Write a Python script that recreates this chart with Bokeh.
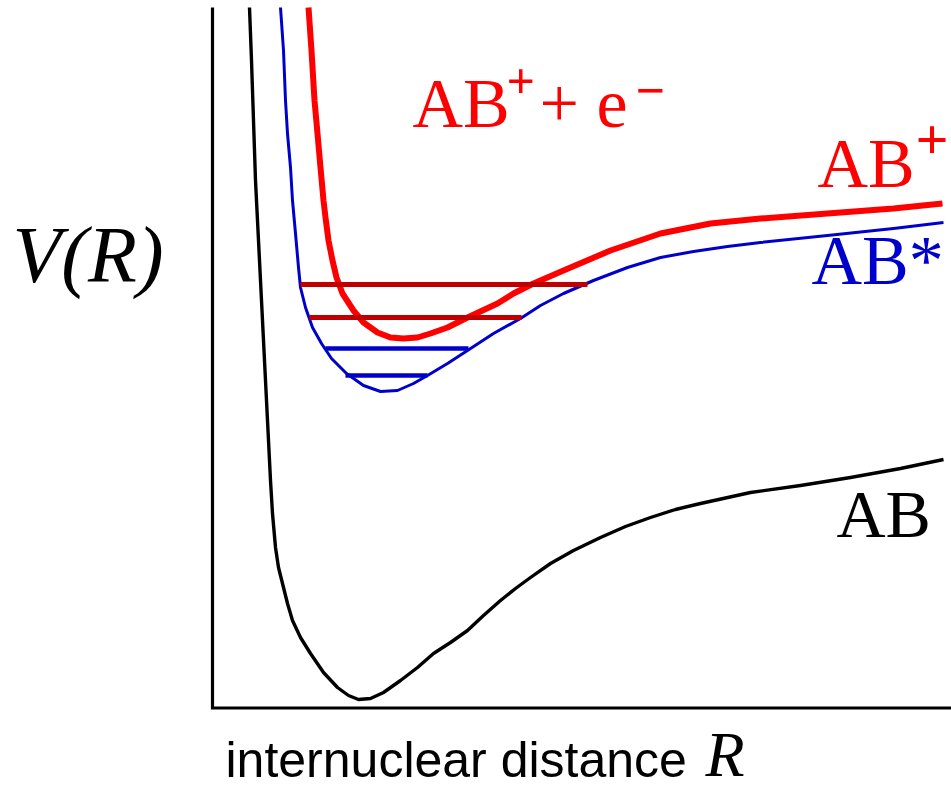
from bokeh.plotting import figure
from bokeh.models import Range1d, Label
from bokeh.embed import file_html
from bokeh.resources import INLINE

# Potential energy curves V(R), internuclear distance R (arbitrary units)
ab_R = [0.37, 0.39, 0.41, 0.43, 0.46, 0.48, 0.51, 0.53, 0.56, 0.58, 0.60, 0.63,
        0.66, 0.71, 0.75, 0.80, 0.88, 0.98, 1.11, 1.25, 1.36, 1.46, 1.58, 1.71,
        1.88, 2.05, 2.21, 2.38, 2.55, 2.71, 2.88, 3.03, 3.18, 3.38, 3.61, 3.88,
        4.13, 4.38, 4.63, 4.88, 5.38, 5.88, 6.38, 6.88, 7.31]
ab_V = [7.01, 6.48, 5.88, 5.28, 4.68, 4.28, 3.68, 3.28, 2.68, 2.28, 1.95, 1.61,
        1.41, 1.21, 1.05, 0.88, 0.71, 0.55, 0.36, 0.21, 0.13, 0.09, 0.10, 0.16,
        0.28, 0.41, 0.55, 0.66, 0.78, 0.93, 1.08, 1.20, 1.31, 1.45, 1.58, 1.71,
        1.82, 1.91, 1.99, 2.05, 2.16, 2.23, 2.31, 2.40, 2.49]

abstar_R = [0.68, 0.71, 0.73, 0.75, 0.78, 0.80, 0.83, 0.86, 0.88, 0.93, 1.00,
            1.09, 1.19, 1.34, 1.51, 1.68, 1.85, 2.01, 2.15, 2.35, 2.55, 2.81,
            3.08, 3.28, 3.51, 3.81, 4.15, 4.48, 4.81, 5.15, 5.48, 6.15, 6.81, 7.31]
abstar_V = [7.01, 6.58, 6.08, 5.75, 5.41, 5.08, 4.75, 4.41, 4.21, 4.01, 3.81,
            3.65, 3.50, 3.35, 3.23, 3.17, 3.18, 3.25, 3.33, 3.45, 3.58, 3.75,
            3.90, 4.03, 4.15, 4.28, 4.41, 4.51, 4.57, 4.62, 4.66, 4.73, 4.80, 4.86]

abplus_R = [0.96, 0.99, 1.02, 1.05, 1.08, 1.11, 1.13, 1.16, 1.20, 1.24, 1.30,
            1.41, 1.51, 1.65, 1.78, 1.91, 2.05, 2.18, 2.35, 2.55, 2.85, 3.01,
            3.21, 3.51, 3.98, 4.48, 4.98, 5.48, 6.15, 6.81, 7.30]
abplus_V = [7.01, 6.58, 6.08, 5.75, 5.41, 5.08, 4.91, 4.68, 4.48, 4.31, 4.15,
            3.98, 3.86, 3.76, 3.71, 3.70, 3.71, 3.75, 3.81, 3.91, 4.05, 4.15,
            4.25, 4.38, 4.58, 4.75, 4.85, 4.90, 4.95, 5.00, 5.05]

# Vibrational levels (energy, left and right turning points)
abstar_level_V = [3.60, 3.33]
abstar_level_R0 = [1.13, 1.33]
abstar_level_R1 = [2.56, 2.15]

abplus_level_V = [4.24, 3.91]
abplus_level_R0 = [0.88, 0.97]
abplus_level_R1 = [3.75, 3.09]

# Axis frame drawn as an L-shaped line
frame_R = [0.0, 0.0, 7.39]
frame_V = [7.01, 0.005, 0.005]

RED = "#ff0000"
BLUE = "#0000cc"
DARKRED = "#c00000"

p = figure(width=951, height=792,
           x_range=Range1d(-2.12, 7.39), y_range=Range1d(-0.84, 7.08),
           x_axis_type=None, y_axis_type=None,
           toolbar_location=None, output_backend="svg", min_border=0)
p.grid.visible = False
p.outline_line_color = None
p.background_fill_color = "white"
p.border_fill_color = "white"

p.line(frame_R, frame_V, line_color="black", line_width=3.2, line_join="miter")

p.line(ab_R, ab_V, line_color="black", line_width=3.4, line_join="round")
p.line(abstar_R, abstar_V, line_color=BLUE, line_width=3.0, line_join="round")

p.segment(x0=abstar_level_R0, y0=abstar_level_V, x1=abstar_level_R1, y1=abstar_level_V,
          line_color=BLUE, line_width=4.5, line_cap="butt")

p.line(abplus_R, abplus_V, line_color=RED, line_width=6.0, line_join="round")

p.segment(x0=abplus_level_R0, y0=abplus_level_V, x1=abplus_level_R1, y1=abplus_level_V,
          line_color=DARKRED, line_width=5.0, line_cap="butt")

# Label places the alphabetic baseline about 0.385 em below the anchor, so the
# anchor is raised by that amount (1 data unit = 100 px here).
BASELINE_SHIFT = 0.385


def add_label(text, x, y, size, color="black", font="Liberation Serif", style="normal"):
    p.add_layout(Label(x=x, y=y + BASELINE_SHIFT * size / 100.0, text=text,
                       text_font=font, text_font_size=f"{size}px",
                       text_font_style=style, text_color=color,
                       text_align="left", text_baseline="alphabetic"))


# AB+ + e-  (ionisation continuum)
add_label("AB", 2.00, 5.78, 70, RED)
add_label("+", 2.94, 6.08, 50, RED, style="bold")
add_label("+ e", 3.27, 5.78, 70, RED)
add_label("\u2212", 4.23, 5.98, 52, RED, style="bold")

# curve names
add_label("AB", 6.05, 5.18, 70, RED)
add_label("+", 7.03, 5.46, 58, RED, style="bold")
add_label("AB*", 5.99, 4.21, 70, BLUE)
add_label("AB", 6.24, 1.68, 68, "black")

# axis titles
add_label("V(R)", -2.00, 4.23, 80, "black", style="italic")
add_label("internuclear distance", 0.13, -0.71, 50, "black", font="Liberation Sans")
add_label("R", 4.93, -0.71, 64, "black", style="italic")

open("out.html", "w").write(file_html(p, INLINE))
